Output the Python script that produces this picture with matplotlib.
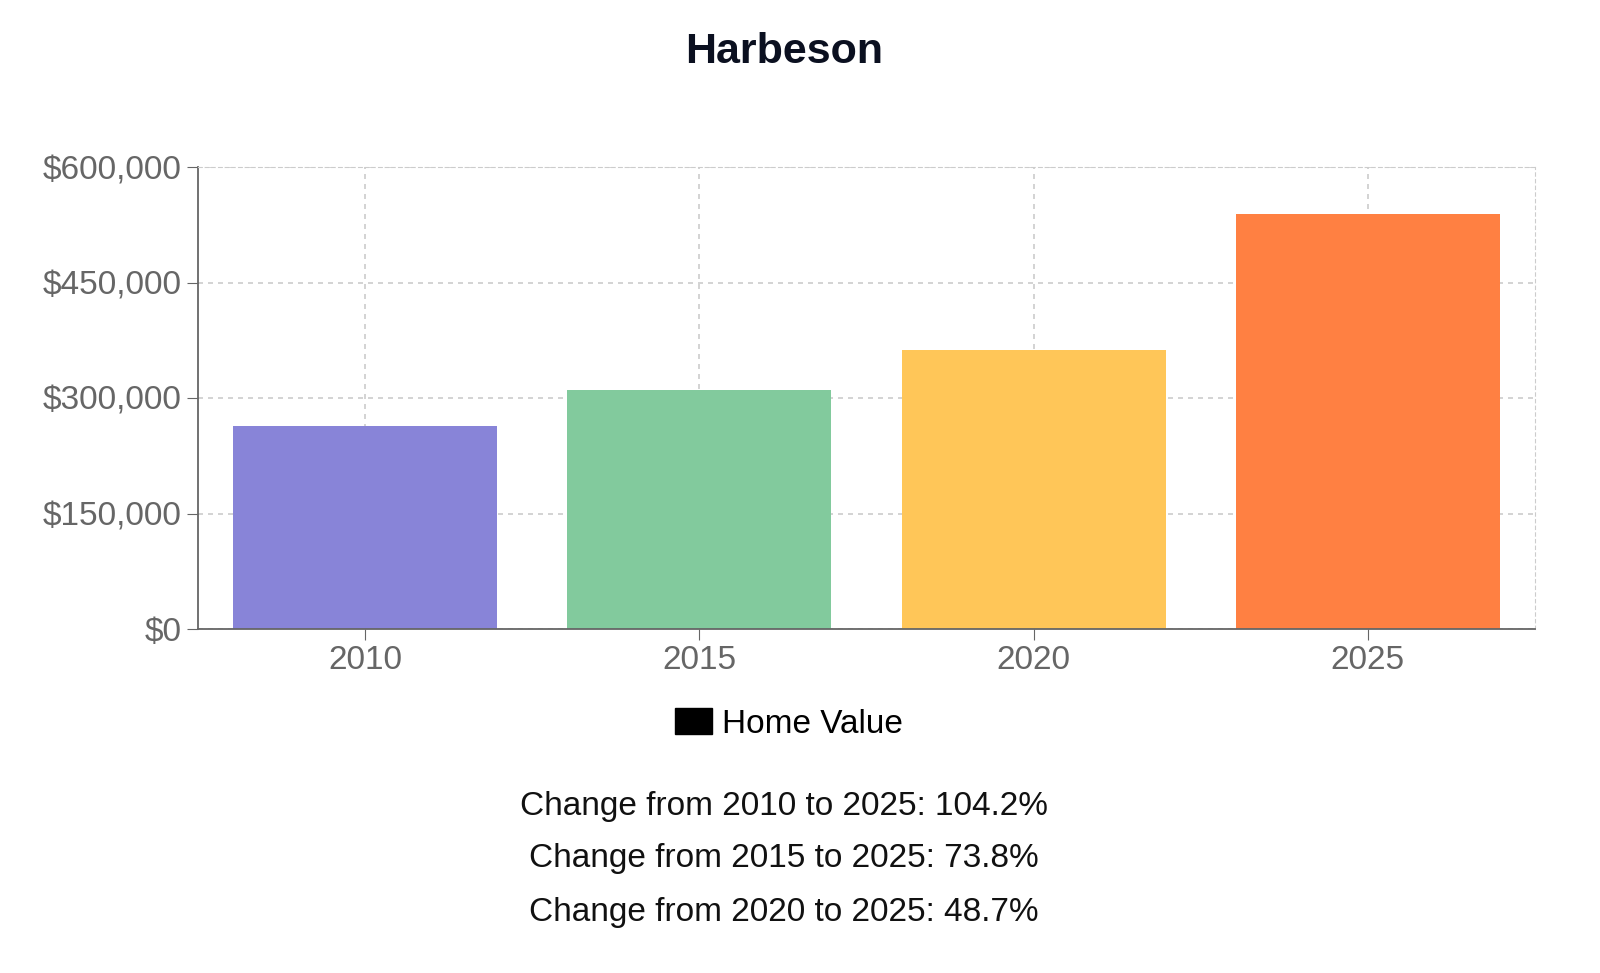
import matplotlib
matplotlib.use("Agg")
import matplotlib.pyplot as plt
from matplotlib.patches import Patch

plt.rcParams["font.family"] = "Liberation Sans"

years = ["2010", "2015", "2020", "2025"]
values = [264000, 310200, 362500, 539100]
colors = ["#8884d8", "#82ca9d", "#ffc658", "#ff8042"]
yticks = [0, 150000, 300000, 450000, 600000]
notes = ["Change from 2010 to 2025: 104.2%",
         "Change from 2015 to 2025: 73.8%",
         "Change from 2020 to 2025: 48.7%"]

W, H = 1600, 973
fig = plt.figure(figsize=(W/100, H/100), dpi=100)
ax = fig.add_axes([198/W, 1-629/H, (1535-198)/W, (629-167)/H])
x = range(len(years))
ax.bar(x, values, width=0.79, color=colors, zorder=2)
ax.set_xlim(-0.5, 3.5)
ax.set_ylim(0, 600000)
ax.set_xticks(list(x))
ax.set_xticklabels(years)
ax.set_yticks(yticks)
ax.set_yticklabels(["$" + format(v, ",") for v in yticks])
ax.grid(True, linestyle=(0, (3, 3)), color="#cccccc", linewidth=1.2, zorder=0)
for s in ["top", "right"]:
    ax.spines[s].set_linestyle((0, (3, 3)))
    ax.spines[s].set_color("#cccccc")
for s in ["left", "bottom"]:
    ax.spines[s].set_color("#666666")
    ax.spines[s].set_linewidth(1.3)
ax.tick_params(labelsize=24, colors="#666666", length=8, color="#666666")
fig.text(0.49, 1-52/H, "Harbeson", ha="center", va="center", fontsize=31, fontweight="bold", color="#0b1020")
fig.legend(handles=[Patch(color="black", label="Home Value")], loc="center",
           bbox_to_anchor=(0.493, 1-724/H), frameon=False, fontsize=24,
           handlelength=1.1, handleheight=0.8, handletextpad=0.3)
for i, t in enumerate(notes):
    fig.text(0.49, 1-(806+53*i)/H, t, ha="center", va="center", fontsize=24, color="#111111")
fig.savefig("out.png", dpi=100, facecolor="white")
